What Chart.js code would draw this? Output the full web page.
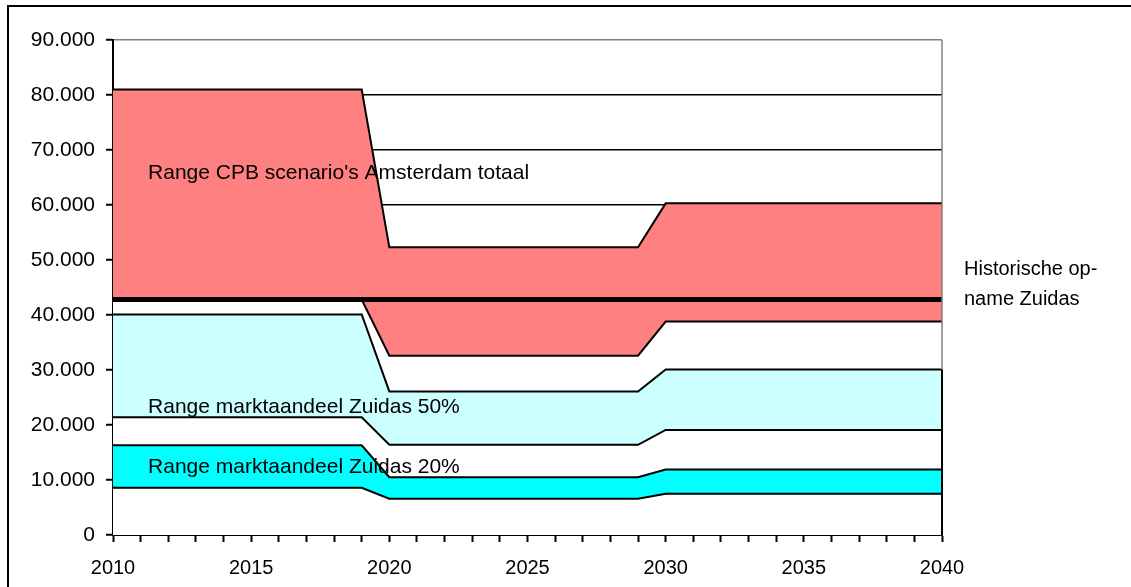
<!DOCTYPE html>
<html>
<head>
<meta charset="utf-8">
<script src="https://cdn.jsdelivr.net/npm/chart.js@4.4.1/dist/chart.umd.min.js"></script>
<style>
  html, body { margin: 0; padding: 0; background: #fff; overflow: hidden; }
  #frame { position: absolute; left: 7px; top: 5px; width: 1300px; height: 800px;
           border: 2px solid #000; box-sizing: border-box; }
  #c { position: absolute; left: 0; top: 0; }
</style>
</head>
<body>
<div id="frame"></div>
<canvas id="c" width="1131" height="587"></canvas>
<script>
// Jaren op de x-as
const years = [2010, 2011, 2012, 2013, 2014, 2015, 2016, 2017, 2018, 2019,
               2020, 2021, 2022, 2023, 2024, 2025, 2026, 2027, 2028, 2029,
               2030, 2031, 2032, 2033, 2034, 2035, 2036, 2037, 2038, 2039, 2040];

// Range CPB scenario's Amsterdam totaal (bovengrens / ondergrens)
const cpbHigh = [81000, 81000, 81000, 81000, 81000, 81000, 81000, 81000, 81000, 81000,
                 52300, 52300, 52300, 52300, 52300, 52300, 52300, 52300, 52300, 52300,
                 60300, 60300, 60300, 60300, 60300, 60300, 60300, 60300, 60300, 60300, 60300];
const cpbLow  = [42800, 42800, 42800, 42800, 42800, 42800, 42800, 42800, 42800, 42800,
                 32600, 32600, 32600, 32600, 32600, 32600, 32600, 32600, 32600, 32600,
                 38800, 38800, 38800, 38800, 38800, 38800, 38800, 38800, 38800, 38800, 38800];

// Range marktaandeel Zuidas 50%
const share50High = [40100, 40100, 40100, 40100, 40100, 40100, 40100, 40100, 40100, 40100,
                     26100, 26100, 26100, 26100, 26100, 26100, 26100, 26100, 26100, 26100,
                     30100, 30100, 30100, 30100, 30100, 30100, 30100, 30100, 30100, 30100, 30100];
const share50Low  = [21400, 21400, 21400, 21400, 21400, 21400, 21400, 21400, 21400, 21400,
                     16400, 16400, 16400, 16400, 16400, 16400, 16400, 16400, 16400, 16400,
                     19100, 19100, 19100, 19100, 19100, 19100, 19100, 19100, 19100, 19100, 19100];

// Range marktaandeel Zuidas 20%
const share20High = [16300, 16300, 16300, 16300, 16300, 16300, 16300, 16300, 16300, 16300,
                     10500, 10500, 10500, 10500, 10500, 10500, 10500, 10500, 10500, 10500,
                     11900, 11900, 11900, 11900, 11900, 11900, 11900, 11900, 11900, 11900, 11900];
const share20Low  = [8600, 8600, 8600, 8600, 8600, 8600, 8600, 8600, 8600, 8600,
                     6600, 6600, 6600, 6600, 6600, 6600, 6600, 6600, 6600, 6600,
                     7500, 7500, 7500, 7500, 7500, 7500, 7500, 7500, 7500, 7500, 7500];

// Historische opname Zuidas
const historic = [42800, 42800, 42800, 42800, 42800, 42800, 42800, 42800, 42800, 42800,
                  42800, 42800, 42800, 42800, 42800, 42800, 42800, 42800, 42800, 42800,
                  42800, 42800, 42800, 42800, 42800, 42800, 42800, 42800, 42800, 42800, 42800];

// As-ticks
const yTicks = [0, 10000, 20000, 30000, 40000, 50000, 60000, 70000, 80000, 90000];
const xLabelYears = [2010, 2015, 2020, 2025, 2030, 2035, 2040];

// Tekstlabels in de grafiek: [tekst, jaar (linkerkant), waarde (midden)]
const bandLabels = [
  ["Range CPB scenario's Amsterdam totaal", 2011.27, 65700],
  ["Range marktaandeel Zuidas 50%", 2011.27, 23200],
  ["Range marktaandeel Zuidas 20%", 2011.27, 12300]
];
const sideLabel = ["Historische op-", "name Zuidas"];

const FONT = "'Liberation Sans', Arial, sans-serif";
const pts = arr => years.map((x, i) => ({ x, y: arr[i] }));
const fmt = v => v === 0 ? '0' : (v / 1000) + '.000';

const edge = { borderColor: '#000', borderWidth: 2, pointRadius: 0, tension: 0,
               borderJoinStyle: 'miter' };

// Tekst en rechterrand van het plotvlak
const decor = {
  id: 'decor',
  afterDatasetsDraw(chart) {
    const { ctx, chartArea, scales: { x, y } } = chart;
    const xr = x.getPixelForValue(years[years.length - 1]);
    ctx.save();
    ctx.lineWidth = 1.5;
    ctx.strokeStyle = '#808080';
    ctx.beginPath();
    ctx.moveTo(xr, chartArea.top);
    ctx.lineTo(xr, chartArea.bottom);
    ctx.stroke();
    ctx.strokeStyle = '#000';
    ctx.lineWidth = 2;
    ctx.beginPath();
    ctx.moveTo(xr, y.getPixelForValue(0));
    ctx.lineTo(xr, y.getPixelForValue(share50High[share50High.length - 1]));
    ctx.stroke();

    ctx.fillStyle = '#000';
    ctx.textBaseline = 'middle';
    ctx.textAlign = 'left';
    ctx.font = '21px ' + FONT;
    bandLabels.forEach(([t, yr, v]) => {
      ctx.fillText(t, x.getPixelForValue(yr), y.getPixelForValue(v));
    });
    ctx.font = '20px ' + FONT;
    const hy = y.getPixelForValue(historic[historic.length - 1]);
    ctx.fillText(sideLabel[0], chartArea.right + 22, hy - 30);
    ctx.fillText(sideLabel[1], chartArea.right + 22, hy);
    ctx.restore();
  }
};

new Chart(document.getElementById('c'), {
  type: 'line',
  data: {
    datasets: [
      { label: 'Historische opname Zuidas', data: pts(historic), borderColor: '#000',
        borderWidth: 5, pointRadius: 0, fill: false },
      { ...edge, label: '20% laag', data: pts(share20Low), fill: '+1', backgroundColor: '#00FFFF' },
      { ...edge, label: '20% hoog', data: pts(share20High), fill: false },
      { ...edge, label: '50% laag', data: pts(share50Low), fill: '+1', backgroundColor: '#CCFFFF' },
      { ...edge, label: '50% hoog', data: pts(share50High), fill: false },
      { ...edge, label: 'CPB laag', data: pts(cpbLow), fill: '+1', backgroundColor: '#FF8080' },
      { ...edge, label: 'CPB hoog', data: pts(cpbHigh), fill: false },
      { label: 'achtergrond', data: pts(cpbHigh), borderWidth: 0, pointRadius: 0,
        fill: 'origin', backgroundColor: '#FFFFFF' }
    ]
  },
  options: {
    responsive: false,
    animation: false,
    devicePixelRatio: 1,
    layout: { padding: { left: 0, top: 40, right: 189, bottom: 0 } },
    plugins: {
      legend: { display: false },
      tooltip: { enabled: false },
      filler: { drawTime: 'beforeDatasetsDraw' }
    },
    scales: {
      x: {
        type: 'linear', min: years[0], max: years[years.length - 1],
        afterFit: s => { s.height = 52; },
        border: { color: '#000', width: 2 },
        grid: { drawOnChartArea: false, drawTicks: true, tickLength: 7, tickColor: '#000', tickWidth: 2 },
        ticks: {
          stepSize: 1, autoSkip: false, maxRotation: 0, padding: 14,
          color: '#000', font: { family: FONT, size: 20 },
          callback: v => xLabelYears.includes(v) ? String(v) : ''
        }
      },
      y: {
        min: yTicks[0], max: yTicks[yTicks.length - 1],
        afterFit: s => { s.width = 113; },
        afterBuildTicks: s => { s.ticks = yTicks.map(v => ({ value: v })); },
        border: { color: '#000', width: 2 },
        grid: {
          color: c => c.tick && c.tick.value === 90000 ? '#808080' : '#000',
          lineWidth: 1.5, drawTicks: true, tickLength: 7, tickColor: '#000', tickWidth: 2
        },
        ticks: { padding: 11, color: '#000', font: { family: FONT, size: 21 }, callback: fmt }
      }
    }
  },
  plugins: [decor]
});
</script>
</body>
</html>
